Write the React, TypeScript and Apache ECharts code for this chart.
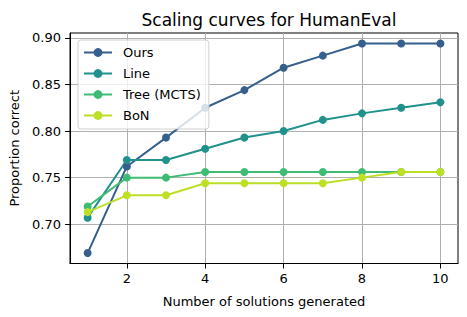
import React, { useEffect, useRef } from "react";
import * as echarts from "echarts";

const xValues = [1, 2, 3, 4, 5, 6, 7, 8, 9, 10];
const ours = [0.669, 0.762, 0.793, 0.825, 0.844, 0.868, 0.881, 0.894, 0.894, 0.894];
const line = [0.707, 0.769, 0.769, 0.781, 0.793, 0.8, 0.812, 0.819, 0.825, 0.831];
const tree = [0.719, 0.75, 0.75, 0.756, 0.756, 0.756, 0.756, 0.756, 0.756, 0.756];
const bon = [0.713, 0.731, 0.731, 0.744, 0.744, 0.744, 0.744, 0.75, 0.756, 0.756];
const xTicks = [2, 4, 6, 8, 10];
const yTicks = [0.7, 0.75, 0.8, 0.85, 0.9];
const seriesNames = ["Ours", "Line", "Tree (MCTS)", "BoN"];
const colors = ["#355f8d", "#21918c", "#3fbc73", "#bddf26"];

const FONT = "DejaVu Sans";

export default function App() {
  const ref = useRef<HTMLDivElement>(null);
  useEffect(() => {
    if (!ref.current) return;
    const chart = echarts.init(ref.current, undefined, { renderer: "svg" });
    const datas = [ours, line, tree, bon];
    chart.setOption({
      animation: false,
      backgroundColor: "#ffffff",
      title: {
        text: "Scaling curves for HumanEval",
        left: 264,
        textAlign: "center",
        top: 6,
        textStyle: { fontFamily: FONT, fontSize: 17, fontWeight: "normal", color: "#000" },
      },
      grid: {
        left: 70,
        right: 9,
        top: 33,
        bottom: 53.5,
        containLabel: false,
        show: true,
        borderColor: "#000",
        borderWidth: 1,
        backgroundColor: "transparent",
      },
      legend: {
        orient: "vertical",
        left: 78,
        top: 40,
        data: seriesNames,
        itemWidth: 28,
        itemHeight: 11,
        itemGap: 8,
        padding: [6, 8, 7, 5],
        backgroundColor: "rgba(255,255,255,0.8)",
        borderColor: "#d0d0d0",
        borderWidth: 1,
        borderRadius: 3,
        textStyle: { fontFamily: FONT, fontSize: 13, color: "#000", padding: [0, 0, 0, 6] },
      },
      xAxis: {
        type: "value",
        min: 0.55,
        max: 10.45,
        name: "Number of solutions generated",
        nameLocation: "middle",
        nameGap: 31,
        nameTextStyle: { fontFamily: FONT, fontSize: 13, color: "#000" },
        axisLine: { show: true, onZero: false, lineStyle: { color: "#000", width: 1 } },
        axisTick: { show: true, length: 5, lineStyle: { color: "#000" }, customValues: xTicks },
        axisLabel: {
          fontFamily: FONT,
          fontSize: 13,
          color: "#000",
          margin: 8,
          customValues: xTicks,
        },
        splitLine: { show: true, lineStyle: { color: "#b0b0b0", width: 1 } },
      },
      yAxis: {
        type: "value",
        min: 0.6578,
        max: 0.9053,
        name: "Proportion correct",
        nameLocation: "middle",
        nameGap: 47,
        nameTextStyle: { fontFamily: FONT, fontSize: 13, color: "#000" },
        axisLine: { show: true, onZero: false, lineStyle: { color: "#000", width: 1 } },
        axisTick: { show: true, length: 5, lineStyle: { color: "#000" }, customValues: yTicks },
        axisLabel: {
          fontFamily: FONT,
          fontSize: 13,
          color: "#000",
          margin: 9,
          customValues: yTicks,
          formatter: (v: number) => v.toFixed(2),
        },
        splitLine: { show: true, lineStyle: { color: "#b0b0b0", width: 1 } },
      },
      series: seriesNames.map((name, i) => ({
        name,
        type: "line",
        data: xValues.map((x, j) => [x, datas[i][j]]),
        symbol: "circle",
        symbolSize: 8,
        color: colors[i],
        lineStyle: { width: 2, color: colors[i] },
        itemStyle: { color: colors[i] },
        emphasis: { disabled: true },
      })),
    });
    return () => chart.dispose();
  }, []);
  return <div ref={ref} style={{ width: 467, height: 317, position: "absolute", left: 0, top: 0 }} />;
}
